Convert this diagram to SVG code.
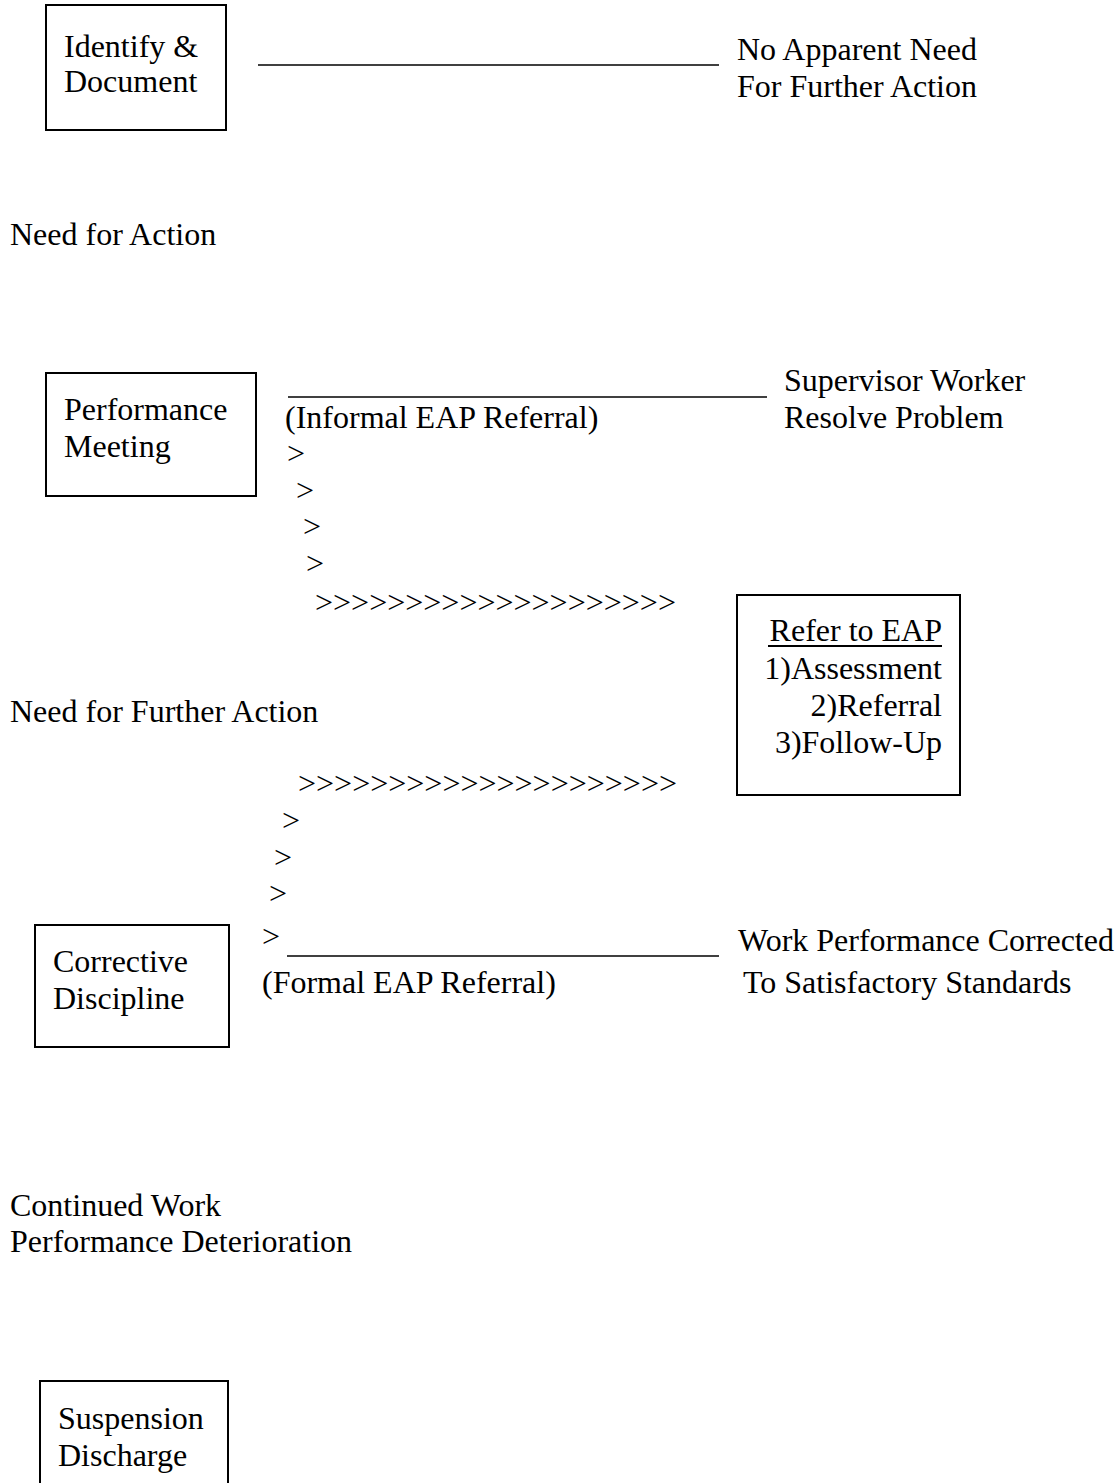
<svg xmlns="http://www.w3.org/2000/svg" width="1119" height="1483" viewBox="0 0 1119 1483">
<style>
text{font-family:"Liberation Serif","Times New Roman",serif;font-size:32px;fill:#000}
.box{fill:#fff;stroke:#000;stroke-width:2}
.ln{stroke:#000;stroke-width:1.6;fill:none}
.r{text-anchor:end}
</style>
<rect width="1119" height="1483" fill="#fff"/>
<g id="connectors">
<line class="ln" x1="258" y1="65" x2="719" y2="65"/>
<line class="ln" x1="288" y1="397" x2="767" y2="397"/>
<line class="ln" x1="287" y1="956" x2="719" y2="956"/>
<text x="287" y="464">&gt;</text>
<text x="296" y="501">&gt;</text>
<text x="303" y="537">&gt;</text>
<text x="306" y="574">&gt;</text>
<text x="315" y="613">&gt;&gt;&gt;&gt;&gt;&gt;&gt;&gt;&gt;&gt;&gt;&gt;&gt;&gt;&gt;&gt;&gt;&gt;&gt;&gt;</text>
<text x="298" y="794">&gt;&gt;&gt;&gt;&gt;&gt;&gt;&gt;&gt;&gt;&gt;&gt;&gt;&gt;&gt;&gt;&gt;&gt;&gt;&gt;&gt;</text>
<text x="282" y="831">&gt;</text>
<text x="274" y="868">&gt;</text>
<text x="269" y="904">&gt;</text>
<text x="262" y="947">&gt;</text>
</g>
<g id="identify">
<rect class="box" x="46" y="5" width="180" height="125"/>
<text x="64" y="57">Identify &amp;</text>
<text x="64" y="92">Document</text>
</g>
<g id="no-need">
<text x="737" y="60">No Apparent Need</text>
<text x="737" y="97">For Further Action</text>
</g>
<g id="need-action">
<text x="10" y="245">Need for Action</text>
</g>
<g id="performance">
<rect class="box" x="46" y="373" width="210" height="123"/>
<text x="64" y="420">Performance</text>
<text x="64" y="457">Meeting</text>
</g>
<g id="informal">
<text x="285" y="428">(Informal EAP Referral)</text>
</g>
<g id="resolve">
<text x="784" y="391">Supervisor Worker</text>
<text x="784" y="428">Resolve Problem</text>
</g>
<g id="refer">
<rect class="box" x="737" y="595" width="223" height="200"/>
<text class="r" x="942" y="641">Refer to EAP</text>
<line x1="768" y1="646" x2="942" y2="646" stroke="#000" stroke-width="2"/>
<text class="r" x="942" y="679">1)Assessment</text>
<text class="r" x="942" y="716">2)Referral</text>
<text class="r" x="942" y="753">3)Follow-Up</text>
</g>
<g id="further-action">
<text x="10" y="722">Need for Further Action</text>
</g>
<g id="corrective">
<rect class="box" x="35" y="925" width="194" height="122"/>
<text x="53" y="972">Corrective</text>
<text x="53" y="1009">Discipline</text>
</g>
<g id="formal">
<text x="262" y="993">(Formal EAP Referral)</text>
</g>
<g id="corrected">
<text x="738" y="951">Work Performance Corrected</text>
<text x="743" y="993">To Satisfactory Standards</text>
</g>
<g id="deterioration">
<text x="10" y="1216">Continued Work</text>
<text x="10" y="1252">Performance Deterioration</text>
</g>
<g id="suspension">
<rect class="box" x="40" y="1381" width="188" height="130"/>
<text x="58" y="1429">Suspension</text>
<text x="58" y="1466">Discharge</text>
</g>
</svg>
